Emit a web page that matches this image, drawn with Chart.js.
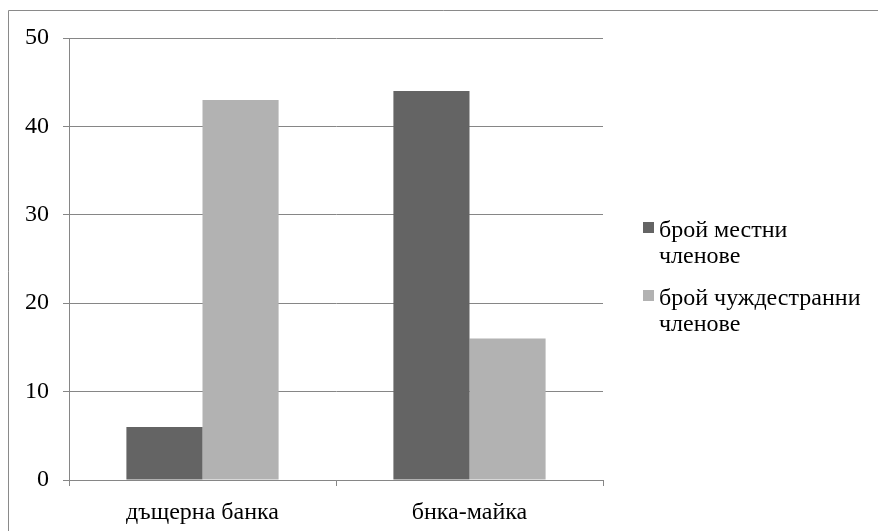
<!DOCTYPE html>
<html>
<head>
<meta charset="utf-8">
<script src="https://cdn.jsdelivr.net/npm/chart.js@4/dist/chart.umd.min.js"></script>
<style>
  html, body { margin: 0; padding: 0; background: #ffffff; }
  #wrap { width: 878px; height: 531px; position: relative; }
</style>
</head>
<body>
<div id="wrap"><canvas id="c" width="878" height="531"></canvas></div>
<script>
// Categories and series
const categories = ['дъщерна банка', 'бнка-майка'];
const localMembers = [6, 44];
const foreignMembers = [43, 16];
const seriesNames = [['брой местни', 'членове'], ['брой чуждестранни', 'членове']];
const yTicks = [0, 10, 20, 30, 40, 50];

const FONT = '"Liberation Serif", "Times New Roman", serif';
const FONT_SIZE = 24;
const GRID = '#868686';

// Outer frame and the two-line legend on the right
const framePlugin = {
  id: 'frameAndLegend',
  afterDraw(chart) {
    const ctx = chart.ctx;
    ctx.save();
    ctx.strokeStyle = '#8a8a8a';
    ctx.lineWidth = 1;
    ctx.beginPath();
    ctx.moveTo(8.5, 540);
    ctx.lineTo(8.5, 10.5);
    ctx.lineTo(890, 10.5);
    ctx.stroke();

    ctx.font = FONT_SIZE + 'px ' + FONT;
    ctx.textBaseline = 'alphabetic';
    ctx.textAlign = 'left';
    const baselines = [237, 305];
    chart.data.datasets.forEach((ds, i) => {
      const y0 = baselines[i];
      ctx.fillStyle = ds.backgroundColor;
      ctx.fillRect(643, y0 - 15, 11, 11);
      ctx.fillStyle = '#000000';
      ds.legendLines.forEach((line, j) => {
        ctx.fillText(line, 659, y0 + j * 26);
      });
    });
    ctx.restore();
  }
};

new Chart(document.getElementById('c'), {
  type: 'bar',
  data: {
    labels: categories,
    datasets: [
      { label: seriesNames[0].join(' '), legendLines: seriesNames[0], data: localMembers, backgroundColor: '#646464' },
      { label: seriesNames[1].join(' '), legendLines: seriesNames[1], data: foreignMembers, backgroundColor: '#b2b2b2' }
    ]
  },
  options: {
    responsive: false,
    animation: false,
    devicePixelRatio: 1,
    layout: { padding: { top: 38, right: 275, bottom: 0, left: 0 } },
    datasets: { bar: { categoryPercentage: 0.57, barPercentage: 1.0 } },
    plugins: { legend: { display: false }, tooltip: { enabled: false } },
    scales: {
      x: {
        grid: { offset: true, drawOnChartArea: false, drawTicks: true, tickLength: 6, color: GRID },
        border: { display: true, color: GRID, width: 1 },
        ticks: { color: '#000000', font: { family: FONT, size: FONT_SIZE }, padding: 12 },
        afterFit(scale) { scale.height = 51; }
      },
      y: {
        min: 0, max: 50,
        afterBuildTicks(scale) { scale.ticks = yTicks.map(v => ({ value: v })); },
        grid: { color: GRID, tickLength: 6, drawTicks: true },
        border: { display: true, color: GRID, width: 1 },
        ticks: { color: '#000000', font: { family: FONT, size: FONT_SIZE }, padding: 14 },
        afterFit(scale) { scale.width = 69; }
      }
    }
  },
  plugins: [framePlugin]
});
</script>
</body>
</html>
